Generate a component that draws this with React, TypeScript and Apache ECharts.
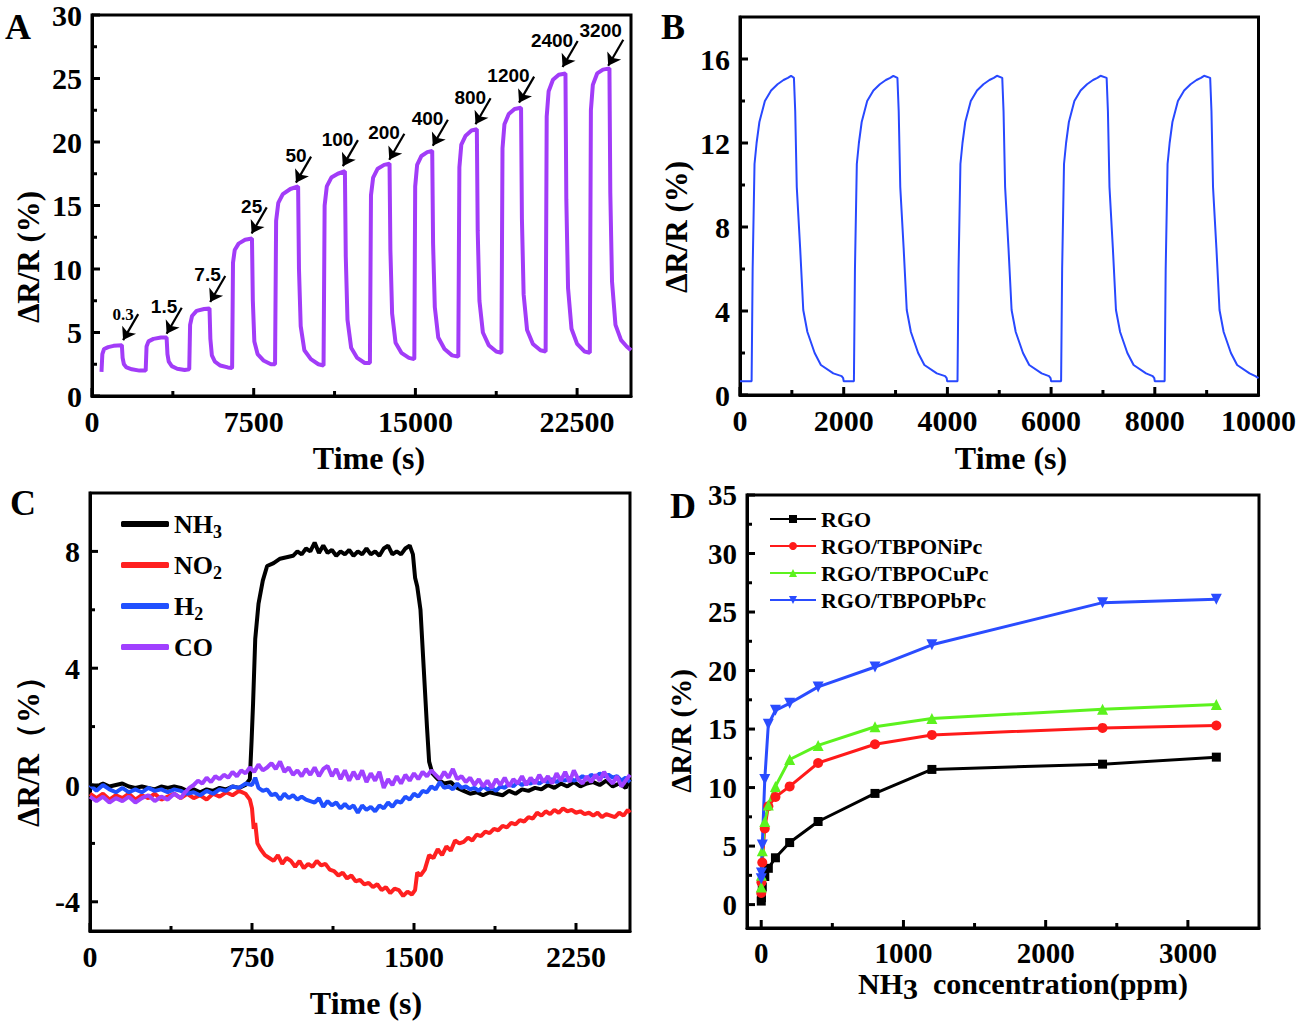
import React, { useEffect, useRef } from 'react';
import * as echarts from 'echarts';

const SERIF = '"Liberation Serif", "Times New Roman", serif';
const SANS = '"Liberation Sans", Arial, sans-serif';

// ---------------- Panel A : response vs time (purple) ----------------
const aSeries: [number, number][] = [
  [440, 1.9],
  [450, 1.9], [480, 3.3], [560, 3.7], [750, 3.85], [1000, 3.95], [1385, 4.0], [1420, 3.0], [1480, 2.5], [1600, 2.25], [1850, 2.1], [2200, 2.0], [2490, 2.0],
  [2500, 2.0], [2530, 3.9], [2620, 4.3], [2850, 4.5], [3200, 4.6], [3460, 4.6], [3500, 3.3], [3560, 2.7], [3700, 2.35], [3950, 2.15], [4300, 2.05], [4510, 2.1],
  [4520, 2.1], [4550, 5.6], [4640, 6.3], [4850, 6.7], [5200, 6.85], [5450, 6.9], [5490, 4.5], [5560, 3.2], [5700, 2.7], [5950, 2.4], [6300, 2.25], [6490, 2.2],
  [6500, 2.3], [6540, 10.5], [6620, 11.5], [6800, 12.0], [7100, 12.3], [7420, 12.4], [7460, 7.5], [7530, 4.3], [7680, 3.3], [7950, 2.8], [8300, 2.5], [8490, 2.5],
  [8500, 2.5], [8540, 13.8], [8640, 15.2], [8850, 15.9], [9200, 16.3], [9560, 16.5], [9600, 10.0], [9680, 5.5], [9850, 3.6], [10150, 2.9], [10500, 2.5], [10740, 2.4],
  [10750, 2.4], [10790, 15.0], [10890, 16.5], [11100, 17.2], [11400, 17.5], [11730, 17.7], [11770, 11.0], [11850, 6.0], [12020, 3.8], [12300, 3.0], [12650, 2.6], [12890, 2.6],
  [12900, 2.6], [12940, 15.8], [13040, 17.2], [13250, 17.9], [13550, 18.2], [13800, 18.3], [13840, 11.5], [13920, 6.5], [14080, 4.2], [14350, 3.4], [14700, 3.0], [14940, 2.9],
  [14950, 3.0], [14990, 16.5], [15080, 18.2], [15280, 18.9], [15550, 19.2], [15780, 19.3], [15820, 12.0], [15900, 7.0], [16060, 4.6], [16350, 3.7], [16700, 3.2], [16990, 3.1],
  [17000, 3.1], [17040, 18.0], [17130, 19.8], [17330, 20.5], [17600, 20.9], [17850, 21.0], [17890, 13.0], [17970, 7.5], [18130, 5.0], [18400, 4.0], [18750, 3.5], [18990, 3.4],
  [19000, 3.4], [19040, 19.5], [19130, 21.4], [19330, 22.2], [19600, 22.6], [19900, 22.7], [19940, 14.0], [20020, 8.0], [20180, 5.2], [20450, 4.1], [20800, 3.6], [21040, 3.5],
  [21050, 3.5], [21090, 22.0], [21180, 24.0], [21380, 24.9], [21650, 25.3], [21960, 25.4], [22000, 15.5], [22080, 8.5], [22240, 5.3], [22500, 4.1], [22850, 3.5], [23090, 3.4],
  [23100, 3.4], [23140, 22.5], [23230, 24.5], [23430, 25.4], [23700, 25.7], [24000, 25.8], [24040, 16.0], [24120, 9.0], [24280, 5.6], [24540, 4.4], [24800, 3.9], [25000, 3.6],
];
const aLabels = ['0.3', '1.5', '7.5', '25', '50', '100', '200', '400', '800', '1200', '2400', '3200'];
const aTipTime = [1442, 3462, 5481, 7404, 9461, 11634, 13788, 15807, 17788, 19807, 21827, 23942];
const aTipResp = [4.4, 4.9, 7.4, 12.8, 16.8, 18.1, 18.6, 19.7, 21.4, 23.1, 25.9, 26.0];

// ---------------- Panel B : repeatability (blue) ----------------
const bSeries: [number, number][] = [
  [0, 0.65], [224, 0.65], [244, 6.0], [280, 11.0], [320, 12.0], [374, 13.0], [480, 14.0], [600, 14.5], [724, 14.8], [840, 15.0], [924, 15.1], [984, 15.2], [1040, 15.1],
  [1065, 13.5], [1095, 9.9], [1160, 7.0], [1220, 4.05], [1300, 3.0], [1440, 2.0], [1560, 1.43], [1800, 1.03], [1960, 0.9], [1990, 0.8], [2000, 0.65], [2197, 0.65],
  [2217, 6.0], [2253, 11.0], [2293, 12.0], [2347, 13.0], [2453, 14.0], [2573, 14.5], [2697, 14.8], [2813, 15.0], [2897, 15.1], [2957, 15.2], [3036, 15.1],
  [3061, 13.5], [3091, 9.9], [3156, 7.0], [3216, 4.05], [3296, 3.0], [3436, 2.0], [3556, 1.43], [3796, 1.03], [3956, 0.9], [3986, 0.8], [3996, 0.65], [4195, 0.65],
  [4215, 6.0], [4251, 11.0], [4291, 12.0], [4345, 13.0], [4451, 14.0], [4571, 14.5], [4695, 14.8], [4811, 15.0], [4895, 15.1], [4955, 15.2], [5058, 15.1],
  [5083, 13.5], [5113, 9.9], [5178, 7.0], [5238, 4.05], [5318, 3.0], [5458, 2.0], [5578, 1.43], [5818, 1.03], [5960, 0.9], [5990, 0.8], [6000, 0.65], [6193, 0.65],
  [6213, 6.0], [6249, 11.0], [6289, 12.0], [6343, 13.0], [6449, 14.0], [6569, 14.5], [6693, 14.8], [6809, 15.0], [6893, 15.1], [6953, 15.2], [7071, 15.1],
  [7096, 13.5], [7126, 9.9], [7191, 7.0], [7251, 4.05], [7331, 3.0], [7471, 2.0], [7591, 1.43], [7831, 1.03], [7960, 0.9], [7990, 0.8], [8000, 0.65], [8190, 0.65],
  [8210, 6.0], [8246, 11.0], [8286, 12.0], [8340, 13.0], [8446, 14.0], [8566, 14.5], [8690, 14.8], [8806, 15.0], [8890, 15.1], [8950, 15.2], [9068, 15.1],
  [9093, 13.5], [9123, 9.9], [9188, 7.0], [9248, 4.05], [9328, 3.0], [9468, 2.0], [9588, 1.43], [9828, 1.03], [9940, 0.9], [10000, 0.8],
];

// ---------------- Panel C : selectivity ----------------
const cNH3: [number, number][] = [
  [0, 0.0], [30, -0.05], [60, 0.05], [90, -0.05], [120, 0.0], [150, 0.05], [180, -0.05], [210, -0.1], [240, -0.05], [270, -0.1], [300, -0.15], [330, -0.05], [360, -0.1], [390, -0.05], [420, -0.1], [450, -0.2], [480, -0.15], [510, -0.25], [540, -0.15], [570, -0.2], [600, -0.1], [630, -0.15], [660, -0.05], [690, -0.1], [720, 0.0],
  [740, 0.2], [748, 1.5], [755, 2.8], [765, 5.0], [780, 6.2], [800, 7.0], [820, 7.5], [850, 7.6], [880, 7.75], [910, 7.8], [940, 7.85], [960, 8.0], [980, 7.9], [1000, 8.1], [1020, 8.0], [1040, 8.3], [1060, 7.95], [1080, 8.2], [1100, 7.95], [1120, 8.05], [1140, 7.85], [1160, 8.0], [1180, 7.9], [1200, 8.05], [1220, 7.85], [1240, 8.0], [1260, 7.9], [1280, 8.1], [1300, 7.9], [1320, 8.0], [1340, 7.85], [1360, 8.1], [1380, 8.2], [1400, 7.9], [1420, 8.0], [1440, 7.9], [1460, 8.1], [1480, 8.2], [1495, 7.9],
  [1505, 7.1], [1515, 6.8], [1530, 6.0], [1545, 4.0], [1560, 2.0], [1570, 0.8], [1585, 0.4], [1610, 0.2], [1640, 0.05], [1670, 0.1], [1700, -0.1], [1730, -0.2], [1760, -0.3], [1790, -0.25], [1820, -0.35], [1850, -0.25], [1880, -0.3], [1910, -0.35], [1940, -0.2], [1970, -0.3], [2000, -0.15], [2030, -0.2], [2060, -0.1], [2090, -0.15], [2120, 0.0], [2150, -0.1], [2180, 0.05], [2210, -0.05], [2240, 0.1], [2270, -0.05], [2300, 0.05], [2330, 0.1], [2360, 0.0], [2390, 0.15], [2420, -0.05], [2450, 0.05], [2480, -0.1], [2500, 0.2],
];
const cNO2: [number, number][] = [
  [0, -0.3], [30, -0.45], [60, -0.3], [90, -0.5], [120, -0.35], [150, -0.45], [180, -0.3], [210, -0.5], [240, -0.35], [270, -0.45], [300, -0.3], [330, -0.5], [360, -0.4], [390, -0.3], [420, -0.45], [450, -0.3], [480, -0.45], [510, -0.35], [540, -0.5], [570, -0.3], [600, -0.4], [630, -0.25], [660, -0.35], [690, -0.2], [720, -0.3],
  [740, -0.5], [750, -0.8], [758, -1.5], [765, -1.3], [775, -2.0], [790, -2.2], [810, -2.4], [830, -2.5], [850, -2.6], [870, -2.4], [890, -2.7], [910, -2.5], [930, -2.6], [950, -2.8], [970, -2.6], [990, -2.85], [1010, -2.7], [1030, -2.8], [1050, -2.6], [1070, -2.75], [1090, -2.7], [1110, -2.9], [1130, -2.95], [1150, -3.1], [1170, -3.0], [1190, -3.2], [1210, -3.1], [1230, -3.3], [1250, -3.25], [1270, -3.4], [1290, -3.35], [1310, -3.5], [1330, -3.4], [1350, -3.6], [1370, -3.5], [1390, -3.7], [1410, -3.55], [1430, -3.6], [1450, -3.8], [1470, -3.65], [1490, -3.75], [1505, -3.6],
  [1515, -3.0], [1530, -3.1], [1550, -2.9], [1570, -2.4], [1590, -2.5], [1610, -2.2], [1630, -2.4], [1650, -2.1], [1670, -2.25], [1690, -1.9], [1710, -2.0], [1730, -1.95], [1750, -1.8], [1770, -1.9], [1790, -1.7], [1810, -1.75], [1830, -1.6], [1850, -1.65], [1870, -1.5], [1890, -1.55], [1910, -1.4], [1930, -1.45], [1950, -1.3], [1970, -1.35], [1990, -1.2], [2010, -1.25], [2030, -1.1], [2050, -1.15], [2070, -0.95], [2090, -1.05], [2110, -0.9], [2130, -1.0], [2150, -0.85], [2170, -0.95], [2190, -0.8], [2210, -0.9], [2230, -0.85], [2250, -0.95], [2270, -0.9], [2290, -1.0], [2310, -0.95], [2330, -1.05], [2350, -0.95], [2370, -1.1], [2390, -1.0], [2410, -1.05], [2430, -1.1], [2450, -0.95], [2470, -1.05], [2490, -0.85], [2500, -0.95],
];
const cH2: [number, number][] = [
  [0, 0.0], [30, -0.2], [60, 0.0], [90, -0.15], [120, -0.25], [150, -0.1], [180, -0.25], [210, -0.15], [240, -0.25], [270, -0.1], [300, -0.2], [330, -0.15], [360, -0.25], [390, -0.15], [420, -0.2], [450, -0.3], [480, -0.25], [510, -0.35], [540, -0.2], [570, -0.3], [600, -0.15], [630, -0.2], [660, -0.05], [690, -0.1], [720, 0.05], [750, 0.0], [765, 0.25],
  [780, -0.1], [800, -0.2], [820, -0.15], [840, -0.35], [860, -0.3], [880, -0.5], [900, -0.3], [920, -0.45], [940, -0.35], [960, -0.5], [980, -0.4], [1000, -0.5], [1020, -0.55], [1040, -0.6], [1060, -0.45], [1080, -0.75], [1100, -0.55], [1120, -0.7], [1140, -0.6], [1160, -0.8], [1180, -0.65], [1200, -0.8], [1220, -0.7], [1240, -0.95], [1260, -0.7], [1280, -0.85], [1300, -0.75], [1320, -0.9], [1340, -0.7], [1360, -0.8], [1380, -0.6], [1400, -0.75], [1420, -0.55], [1440, -0.6], [1460, -0.4], [1480, -0.5], [1500, -0.3], [1520, -0.4], [1540, -0.2], [1560, -0.25], [1580, -0.05], [1600, -0.15], [1620, 0.1],
  [1640, -0.1], [1660, -0.05], [1680, -0.15], [1700, 0.05], [1720, -0.1], [1740, -0.05], [1760, -0.15], [1780, -0.1], [1800, -0.2], [1820, -0.05], [1840, -0.15], [1860, -0.1], [1880, -0.2], [1900, -0.05], [1920, -0.1], [1940, 0.05], [1960, -0.05], [1980, 0.1], [2000, 0.0], [2020, 0.1], [2040, 0.05], [2060, 0.15], [2080, 0.05], [2100, 0.15], [2120, 0.1], [2140, 0.2], [2160, 0.1], [2180, 0.2], [2200, 0.15], [2220, 0.25], [2240, 0.15], [2260, 0.2], [2280, 0.3], [2300, 0.2], [2320, 0.35], [2340, 0.25], [2360, 0.4], [2380, 0.3], [2400, 0.35], [2420, 0.25], [2440, 0.3], [2460, 0.15], [2480, 0.25], [2500, 0.1],
];
const cCO: [number, number][] = [
  [0, -0.4], [30, -0.55], [60, -0.4], [90, -0.6], [120, -0.45], [150, -0.55], [180, -0.4], [210, -0.6], [240, -0.45], [270, -0.35], [300, -0.55], [330, -0.4], [360, -0.5], [390, -0.3], [420, -0.45], [440, -0.25], [460, -0.1], [480, 0.0], [500, 0.15], [520, 0.05], [540, 0.25], [560, 0.1], [580, 0.3], [600, 0.2], [620, 0.35], [640, 0.25], [660, 0.45], [680, 0.3], [700, 0.5], [720, 0.4], [740, 0.6], [760, 0.45], [780, 0.7], [800, 0.5], [820, 0.6], [840, 0.75], [860, 0.55], [880, 0.8],
  [900, 0.45], [920, 0.6], [940, 0.35], [960, 0.5], [980, 0.3], [1000, 0.55], [1020, 0.35], [1040, 0.6], [1060, 0.3], [1080, 0.55], [1100, 0.65], [1120, 0.3], [1140, 0.55], [1160, 0.2], [1180, 0.5], [1200, 0.15], [1220, 0.45], [1240, 0.2], [1260, 0.5], [1280, 0.1], [1300, 0.4], [1320, 0.15], [1340, 0.45], [1360, -0.1], [1380, 0.2], [1400, 0.0], [1420, 0.3], [1440, 0.05], [1460, 0.35], [1480, 0.15], [1500, 0.4], [1520, 0.2], [1540, 0.45], [1560, 0.3], [1580, 0.5], [1600, 0.35], [1620, 0.2], [1640, 0.45], [1660, 0.25], [1680, 0.55],
  [1700, 0.2], [1720, 0.3], [1740, 0.1], [1760, 0.25], [1780, 0.0], [1800, 0.2], [1820, -0.05], [1840, 0.15], [1860, -0.1], [1880, 0.2], [1900, 0.0], [1920, 0.25], [1940, -0.05], [1960, 0.2], [1980, 0.05], [2000, 0.3], [2020, 0.0], [2040, 0.25], [2060, 0.05], [2080, 0.35], [2100, 0.1], [2120, 0.3], [2140, 0.05], [2160, 0.4], [2180, 0.15], [2200, 0.45], [2220, 0.1], [2240, 0.5], [2260, 0.2], [2280, 0.05], [2300, 0.3], [2320, 0.1], [2340, 0.35], [2360, 0.15], [2380, 0.45], [2400, 0.2], [2420, 0.05], [2440, 0.3], [2460, -0.05], [2480, 0.15], [2500, 0.35],
];

// ---------------- Panel D : response vs concentration ----------------
const dConc = [0.3, 1.5, 7.5, 25, 50, 100, 200, 400, 800, 1200, 2400, 3200];
const dRGO = [0.3, 0.6, 1.5, 2.4, 3.1, 4.0, 5.3, 7.1, 9.5, 11.55, 12.0, 12.6];
const dNiPc = [1.0, 1.9, 3.6, 6.5, 8.4, 9.2, 10.1, 12.1, 13.7, 14.5, 15.1, 15.3];
const dCuPc = [1.5, 2.5, 4.6, 7.1, 8.5, 10.1, 12.4, 13.6, 15.2, 15.9, 16.7, 17.1];
const dPbPc = [2.2, 2.7, 5.1, 10.7, 15.4, 16.6, 17.2, 18.6, 20.3, 22.2, 25.8, 26.1];

// tick values
const aXMajor = [0, 7500, 15000, 22500];
const aXMinor = [3750, 11250, 18750];
const aYMajor = [0, 5, 10, 15, 20, 25, 30];
const aYMinor = [2.5, 7.5, 12.5, 17.5, 22.5, 27.5];
const bXMajor = [0, 2000, 4000, 6000, 8000, 10000];
const bXMinor = [1000, 3000, 5000, 7000, 9000];
const bYMajor = [0, 4, 8, 12, 16];
const bYMinor = [2, 6, 10, 14];
const cXMajor = [0, 750, 1500, 2250];
const cXMinor = [375, 1125, 1875];
const cYMajor = [-4, 0, 4, 8];
const cYMinor = [-2, 2, 6];
const dXMajor = [0, 1000, 2000, 3000];
const dXMinor = [500, 1500, 2500];
const dYMajor = [0, 5, 10, 15, 20, 25, 30, 35];
const dYMinor = [2.5, 7.5, 12.5, 17.5, 22.5, 27.5, 32.5];

function axis(dim: 'x' | 'y', gridIndex: number, min: number, max: number, major: number[], fontSize: number) {
  return {
    type: 'value', gridIndex, min, max, position: dim === 'x' ? 'bottom' : 'left',
    axisLine: { show: true, onZero: false, lineStyle: { color: '#000', width: 3 } },
    axisTick: { show: false },
    axisLabel: {
      show: true, customValues: major, formatter: (v: number) => String(v), color: '#000',
      fontFamily: SERIF, fontWeight: 'bold', fontSize, margin: 10,
    },
    splitLine: { show: false },
    minorTick: { show: false },
  };
}

// inward tick marks: small bars placed through the axes' own scales
function ticks(dim: 'x' | 'y', idx: number, values: number[], otherMin: number, len: number) {
  return {
    type: 'scatter', xAxisIndex: idx, yAxisIndex: idx, silent: true, clip: false, z: 5,
    data: values.map((v) => (dim === 'x' ? [v, otherMin] : [otherMin, v])),
    symbol: 'rect',
    symbolSize: dim === 'x' ? [3, len] : [len, 3],
    symbolOffset: dim === 'x' ? [0, -len / 2] : [len / 2, 0],
    itemStyle: { color: '#000', opacity: 1 },
    emphasis: { disabled: true },
  };
}

function textEl(text: string, x: number, y: number, size: number, rotate = false, rich?: any) {
  return {
    type: 'text', x, y, rotation: rotate ? Math.PI / 2 : 0,
    style: {
      text, fill: '#000', font: `bold ${size}px ${SERIF}`, fontFamily: SERIF, fontWeight: 'bold', fontSize: size,
      textAlign: 'center', textVerticalAlign: 'middle', rich,
    },
  };
}

function buildOption() {
  const tailDT = 700;
  const tailDV = 2.05;
  const arrowLines = aLabels.map((_, i) => [
    { coord: [aTipTime[i] + tailDT, aTipResp[i] + tailDV] },
    { coord: [aTipTime[i], aTipResp[i]] },
  ]);
  const arrowLabels = aLabels.map((lab, i) => ({
    name: lab,
    coord: [aTipTime[i] + tailDT, aTipResp[i] + tailDV],
    label: lab === '0.3'
      ? { fontFamily: SERIF, fontSize: 17 }
      : { fontFamily: SANS, fontSize: 19, offset: lab === '3200' ? [3, -9] : [0, -1] },
  }));

  const sub = { fontSize: 18, lineHeight: 18, verticalAlign: 'bottom', fontFamily: SERIF, fontWeight: 'bold', color: '#000' };

  const tickSeries = [
    ticks('x', 0, aXMajor, 0, 8), ticks('x', 0, aXMinor, 0, 5),
    ticks('y', 0, aYMajor, 0, 8), ticks('y', 0, aYMinor, 0, 5),
    ticks('x', 1, bXMajor, 0, 8), ticks('x', 1, bXMinor, 0, 5),
    ticks('y', 1, bYMajor, 0, 8), ticks('y', 1, bYMinor, 0, 5),
    ticks('x', 2, cXMajor, -5, 8), ticks('x', 2, cXMinor, -5, 5),
    ticks('y', 2, cYMajor, 0, 8), ticks('y', 2, cYMinor, 0, 5),
    ticks('x', 3, dXMajor, -2, 8), ticks('x', 3, dXMinor, -2, 5),
    ticks('y', 3, dYMajor, -100, 8), ticks('y', 3, dYMinor, -100, 5),
  ];

  return {
    animation: false,
    backgroundColor: '#fff',
    grid: [
      { left: 92, top: 15, width: 539, height: 381 },
      { left: 740, top: 17, width: 520, height: 378 },
      { left: 90, top: 493, width: 540, height: 438 },
      { left: 747, top: 495, width: 512, height: 433 },
    ].map((g) => ({ ...g, show: true, borderColor: '#000', borderWidth: 3, backgroundColor: 'transparent' })),
    xAxis: [
      axis('x', 0, 0, 25000, aXMajor, 30),
      axis('x', 1, 0, 10000, bXMajor, 30),
      axis('x', 2, 0, 2500, cXMajor, 30),
      axis('x', 3, -100, 3500, dXMajor, 29),
    ],
    yAxis: [
      axis('y', 0, 0, 30, aYMajor, 30),
      axis('y', 1, 0, 18, bYMajor, 30),
      axis('y', 2, -5, 10, cYMajor, 30),
      axis('y', 3, -2, 35, dYMajor, 29),
    ],
    legend: [
      {
        data: ['NH3', 'NO2', 'H2', 'CO'],
        orient: 'vertical', left: 121, top: 507, padding: 0, itemWidth: 48, itemHeight: 6, itemGap: 7, icon: 'roundRect',
        formatter: (n: string) => n.replace(/(\d)$/, '{s|$1}'),
        textStyle: { fontFamily: SERIF, fontWeight: 'bold', fontSize: 26, lineHeight: 34, color: '#000', rich: { s: sub } },
      },
      {
        data: ['RGO', 'RGO/TBPONiPc', 'RGO/TBPOCuPc', 'RGO/TBPOPbPc'],
        orient: 'vertical', left: 769, top: 507, padding: 0, itemWidth: 46, itemHeight: 10, itemGap: 3,
        textStyle: { fontFamily: SERIF, fontWeight: 'bold', fontSize: 22, lineHeight: 24, color: '#000' },
      },
    ],
    series: [
      {
        type: 'line', name: 'A', xAxisIndex: 0, yAxisIndex: 0, data: aSeries, showSymbol: false, symbol: 'none',
        lineStyle: { color: '#a23cf8', width: 4 }, itemStyle: { color: '#a23cf8' }, silent: true,
        markLine: {
          silent: true, symbol: ['none', 'arrow'], symbolSize: 12,
          lineStyle: { color: '#000', width: 2.2, type: 'solid' }, itemStyle: { color: '#000' },
          label: { show: false }, emphasis: { disabled: true }, data: arrowLines,
        },
        markPoint: {
          silent: true, symbol: 'circle', symbolSize: 1, itemStyle: { color: 'rgba(0,0,0,0)' },
          label: { show: true, position: 'left', distance: 4, formatter: '{b}', color: '#000', fontWeight: 'bold' },
          data: arrowLabels,
        },
      },
      {
        type: 'line', name: 'B', xAxisIndex: 1, yAxisIndex: 1, data: bSeries, showSymbol: false, symbol: 'none',
        lineStyle: { color: '#2848ff', width: 2 }, itemStyle: { color: '#2848ff' }, silent: true,
      },
      ...[
        ['NH3', cNH3, '#000000'],
        ['NO2', cNO2, '#ff2020'],
        ['H2', cH2, '#2050ff'],
        ['CO', cCO, '#a040ff'],
      ].map(([name, data, color]) => ({
        type: 'line', name, xAxisIndex: 2, yAxisIndex: 2, data, showSymbol: false, symbol: 'none',
        lineStyle: { color, width: 4 }, itemStyle: { color }, silent: true,
      })),
      ...[
        ['RGO', dRGO, '#000000', 'rect', 9, 0],
        ['RGO/TBPONiPc', dNiPc, '#ff1a1a', 'circle', 10, 0],
        ['RGO/TBPOCuPc', dCuPc, '#5cf21e', 'triangle', 11, 0],
        ['RGO/TBPOPbPc', dPbPc, '#2a4cff', 'triangle', 11, 180],
      ].map(([name, vals, color, symbol, size, rot]) => ({
        type: 'line', name, xAxisIndex: 3, yAxisIndex: 3,
        data: (vals as number[]).map((v, i) => [dConc[i], v]),
        symbol, symbolSize: size, symbolRotate: rot, showSymbol: true,
        lineStyle: { color, width: 3 }, itemStyle: { color }, silent: true,
      })),
      ...tickSeries,
    ],
    graphic: [
      textEl('A', 18, 27, 36),
      textEl('B', 673, 27, 36),
      textEl('C', 23, 503, 36),
      textEl('D', 683, 506, 36),
      textEl('Time (s)', 369, 458, 32),
      textEl('Time (s)', 1011, 458, 32),
      textEl('Time (s)', 366, 1003, 32),
      textEl('NH{s|3}  concentration(ppm)', 1023, 983, 30, false, {
        s: { fontSize: 30, fontFamily: SERIF, fontWeight: 'bold', padding: [10, 0, 0, 0], fill: '#000' },
      }),
      textEl('ΔR/R (%)', 28, 257, 31, true),
      textEl('ΔR/R (%)', 676, 227, 31, true),
      textEl('ΔR/R（%）', 28, 744, 31, true),
      textEl('ΔR/R (%)', 681, 731, 29, true),
    ],
  };
}

export default function App() {
  const ref = useRef<HTMLDivElement>(null);
  useEffect(() => {
    if (!ref.current) return;
    const chart = echarts.init(ref.current, null, { renderer: 'svg' });
    chart.setOption(buildOption() as any);
    return () => chart.dispose();
  }, []);
  return (
    <div
      ref={ref}
      style={{ position: 'absolute', left: 0, top: 0, width: 1299, height: 1027, background: '#fff' }}
    />
  );
}
